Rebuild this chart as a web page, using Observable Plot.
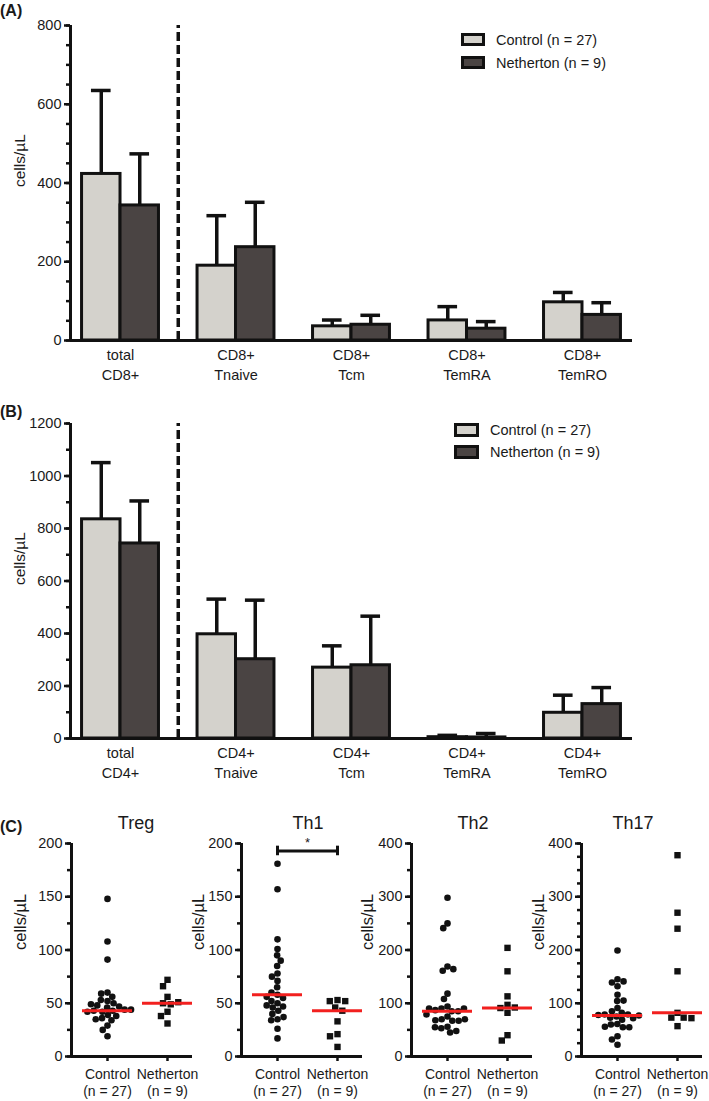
<!DOCTYPE html>
<html>
<head>
<meta charset="utf-8">
<script src="https://cdn.jsdelivr.net/npm/d3@7"></script>
<script src="https://cdn.jsdelivr.net/npm/@observablehq/plot@0.6"></script>
<style>
  body { margin: 0; background: #fff; font-family: "Liberation Sans", Arial, sans-serif; color: #1a1a1a; }
  #root { position: relative; width: 709px; height: 1101px; overflow: hidden; background: #fff; }
  #root > svg, #root > div { position: absolute; }
  .sw { position: absolute; box-sizing: border-box; border: 3px solid #111; }
</style>
</head>
<body>
<div id="root"></div>
<script>
// ---------- shared ----------
const series = ["Control", "Netherton"];
const seriesColors = ["#d4d2cc", "#4a4443"];
const legendLabels = ["Control (n = 27)", "Netherton (n = 9)"];
const yLabel = "cells/µL";
const groupLabels = ["Control\n(n = 27)", "Netherton\n(n = 9)"];

// ---------- panel A (CD8+) ----------
const catsA = ["total\nCD8+", "CD8+\nTnaive", "CD8+\nTcm", "CD8+\nTemRA", "CD8+\nTemRO"];
const ctrlA = [423, 190, 36, 51, 97];
const ctrlSdA = [212, 127, 16, 35, 25];
const nethA = [343, 237, 40, 30, 65];
const nethSdA = [131, 114, 24, 18, 31];
const majorA = [0, 200, 400, 600, 800];
const minorA = [0, 50, 100, 150, 200, 250, 300, 350, 400, 450, 500, 550, 600, 650, 700, 750, 800];

// ---------- panel B (CD4+) ----------
const catsB = ["total\nCD4+", "CD4+\nTnaive", "CD4+\nTcm", "CD4+\nTemRA", "CD4+\nTemRO"];
const ctrlB = [835, 397, 270, 5, 98];
const ctrlSdB = [216, 134, 83, 7, 67];
const nethB = [743, 302, 279, 4, 131];
const nethSdB = [162, 225, 187, 15, 63];
const majorB = [0, 200, 400, 600, 800, 1000, 1200];
const minorB = [0, 100, 200, 300, 400, 500, 600, 700, 800, 900, 1000, 1100, 1200];

// ---------- panel C (T helper subsets) ----------
const titlesC = ["Treg", "Th1", "Th2", "Th17"];
const tregCtrl = [148, 108, 91, 60, 59, 56, 52, 53, 50, 48, 46, 47, 49, 43, 42, 44, 43, 42, 44, 39, 36, 38, 34, 35, 29, 25, 19];
const tregNeth = [72, 66, 56, 50, 49, 51, 42, 38, 31];
const th1Ctrl = [181, 157, 110, 101, 95, 90, 85, 78, 75, 71, 65, 58, 60, 55, 56, 50, 52, 47, 46, 48, 43, 40, 35, 34, 37, 26, 17];
const th1Neth = [53, 52, 52, 46, 43, 33, 21, 19, 9];
const th2Ctrl = [298, 250, 241, 169, 161, 164, 118, 108, 94, 90, 85, 85, 87, 90, 90, 75, 70, 67, 67, 68, 70, 79, 56, 53, 45, 48, 55];
const th2Neth = [204, 160, 113, 97, 91, 92, 82, 40, 30];
const th17Ctrl = [199, 145, 139, 132, 141, 116, 104, 105, 91, 85, 82, 79, 75, 73, 79, 72, 69, 61, 60, 55, 55, 56, 38, 32, 22, 78, 77];
const th17Neth = [378, 270, 240, 160, 82, 73, 73, 72, 57];
const mediansCtrl = [43, 58, 85, 77];
const mediansNeth = [50, 43, 91, 82];
const yMaxC = [200, 200, 400, 400];
const majorC = [[0, 50, 100, 150, 200], [0, 50, 100, 150, 200], [0, 100, 200, 300, 400], [0, 100, 200, 300, 400]];
const minorC = [
  [0, 25, 50, 75, 100, 125, 150, 175, 200],
  [0, 25, 50, 75, 100, 125, 150, 175, 200],
  [0, 50, 100, 150, 200, 250, 300, 350, 400],
  [0, 25, 50, 75, 100, 125, 150, 175, 200, 225, 250, 275, 300, 325, 350, 375, 400]
];
const sigTh1 = {from: 0, to: 1, y: 193, label: "*"};

// ---------- drawing ----------
const ink = "#111";
const fmt = d => String(d);
const plotStyle = {fontFamily: "'Liberation Sans', Arial, sans-serif", fontSize: "14px", color: "#1a1a1a", background: "transparent", overflow: "visible"};
const root = document.getElementById("root");

function place(node, left, top) {
  node.style.left = left + "px";
  node.style.top = top + "px";
  root.appendChild(node);
}
function textDiv(text, x, y, {size = 14, weight = "normal", align = "left"} = {}) {
  const d = document.createElement("div");
  d.textContent = text;
  d.style.fontSize = size + "px";
  d.style.fontWeight = weight;
  d.style.whiteSpace = "nowrap";
  d.style.lineHeight = "1";
  d.style.transform = align === "center" ? "translate(-50%,-50%)" : "translate(0,-50%)";
  place(d, x, y);
}
function swatch(color, x, y, w, h) {
  const d = document.createElement("div");
  d.className = "sw";
  d.style.width = w + "px";
  d.style.height = h + "px";
  d.style.background = color;
  place(d, x, y);
}

const xDomBar = [-0.433, 4.433];
function barPanel(cats, ctrl, ctrlSd, neth, nethSd, yMax, major, minor, height, marginTop, labelDy) {
  const rows = cats.flatMap((c, i) => [
    {g: i, s: series[0], v: ctrl[i], e: ctrl[i] + ctrlSd[i]},
    {g: i, s: series[1], v: neth[i], e: neth[i] + nethSd[i]}
  ]);
  const bw = 0.333, cap = 0.085;
  const cx = d => d.g + (d.s === series[0] ? -bw / 2 : bw / 2);
  return Plot.plot({
    width: 709, height, marginLeft: 70, marginRight: 77, marginTop, marginBottom: height - marginTop - 315,
    x: {domain: xDomBar, axis: null},
    y: {domain: [0, yMax], axis: null},
    color: {domain: series, range: seriesColors},
    style: plotStyle,
    marks: [
      Plot.ruleX(rows, {x: cx, y1: "v", y2: "e", stroke: ink, strokeWidth: 3.5}),
      Plot.ruleY(rows, {y: "e", x1: d => cx(d) - cap, x2: d => cx(d) + cap, stroke: ink, strokeWidth: 3.5}),
      Plot.rect(rows, {x1: d => d.s === series[0] ? d.g - bw : d.g, x2: d => d.s === series[0] ? d.g : d.g + bw, y1: 0, y2: "v", fill: "s", stroke: ink, strokeWidth: 3}),
      Plot.ruleX([0.5], {y1: 0, y2: yMax, stroke: ink, strokeWidth: 3.5, strokeDasharray: "9,4"}),
      Plot.ruleY([0], {stroke: ink, strokeWidth: 3}),
      Plot.ruleX([xDomBar[0]], {y1: 0, y2: yMax, stroke: ink, strokeWidth: 3}),
      Plot.axisY({ticks: minor, tickSize: 4, tickFormat: () => "", stroke: ink, strokeWidth: 2.5, label: null}),
      Plot.axisY({ticks: major, tickSize: 6, tickPadding: 3, tickFormat: fmt, stroke: ink, strokeWidth: 2.5, fontSize: 14.5, label: null}),
      Plot.text(cats, {x: (d, i) => i, text: d => d, frameAnchor: "bottom", lineAnchor: "top", dy: 6, lineHeight: 1.35, fontSize: 14.5}),
      Plot.text([yLabel], {frameAnchor: "left", dx: -50, dy: labelDy, rotate: -90, fontSize: 15.5})
    ]
  });
}

// Panel A
place(barPanel(catsA, ctrlA, ctrlSdA, nethA, nethSdA, 800, majorA, minorA, 385, 25, 4), 0, 0);
textDiv("(A)", 0, 11, {size: 16, weight: "bold"});
swatch(seriesColors[0], 461, 33, 24, 13);
swatch(seriesColors[1], 461, 56, 24, 13);
textDiv(legendLabels[0], 496, 40, {size: 14.5});
textDiv(legendLabels[1], 496, 63, {size: 14.5});

// Panel B
place(barPanel(catsB, ctrlB, ctrlSdB, nethB, nethSdB, 1200, majorB, minorB, 403, 43, 4), 0, 380);
textDiv("(B)", 0, 412, {size: 16, weight: "bold"});
swatch(seriesColors[0], 454, 423, 25, 14);
swatch(seriesColors[1], 454, 445, 25, 14);
textDiv(legendLabels[0], 490, 430, {size: 14.5});
textDiv(legendLabels[1], 490, 452, {size: 14.5});

// Panel C
const ctrlC = [tregCtrl, th1Ctrl, th2Ctrl, th17Ctrl];
const nethC = [tregNeth, th1Neth, th2Neth, th17Neth];
const xDomC = [-0.6, 1.417];
const labelDxC = [51, 43, 44, 43];
const titleXC = [136, 308, 473, 633];
function scatterAxes(k) {
  const yMax = yMaxC[k];
  const marks = [
    Plot.ruleY([0], {stroke: ink, strokeWidth: 3}),
    Plot.ruleX([xDomC[0]], {y1: 0, y2: yMax, stroke: ink, strokeWidth: 3}),
    Plot.axisY({ticks: minorC[k], tickSize: 4, tickFormat: () => "", stroke: ink, strokeWidth: 2.5, label: null}),
    Plot.axisY({ticks: majorC[k], tickSize: 6, tickPadding: 3, tickFormat: fmt, stroke: ink, strokeWidth: 2.5, fontSize: 14.5, label: null}),
    Plot.axisX({ticks: [0, 1], tickSize: 5, tickFormat: () => "", stroke: ink, strokeWidth: 2.5, label: null}),
    Plot.text(groupLabels, {x: (d, i) => i, text: d => d, frameAnchor: "bottom", lineAnchor: "top", dy: 11, lineHeight: 1.2, fontSize: 14}),
    Plot.text([yLabel], {frameAnchor: "left", dx: -labelDxC[k], rotate: -90, fontSize: 16.5})
  ];
  if (k === 1) {
    const s = sigTh1;
    marks.push(
      Plot.ruleY([s], {y: "y", x1: "from", x2: "to", stroke: ink, strokeWidth: 3}),
      Plot.ruleX([s.from, s.to], {x: d => d, y1: s.y - 4.5, y2: s.y + 4.5, stroke: ink, strokeWidth: 3}),
      Plot.text([s], {x: d => (d.from + d.to) / 2, y: "y", text: "label", dy: -8, fontSize: 13})
    );
  }
  return Plot.plot({
    width: 198, height: 301, marginLeft: 71, marginRight: 6, marginTop: 43, marginBottom: 45,
    x: {domain: xDomC, axis: null},
    y: {domain: [0, yMax], axis: null},
    style: plotStyle,
    marks
  });
}
function scatterDots(k) {
  const cRows = ctrlC[k].map(v => ({g: series[0], v}));
  const nRows = nethC[k].map(v => ({g: series[1], v}));
  const meds = [{g: series[0], v: mediansCtrl[k]}, {g: series[1], v: mediansNeth[k]}];
  return Plot.plot({
    width: 198, height: 301, marginLeft: 77, marginRight: 1, marginTop: 43, marginBottom: 45,
    fx: {domain: series, padding: 0, axis: null},
    y: {domain: [0, yMaxC[k]], axis: null},
    style: plotStyle,
    marks: [
      Plot.dot(cRows, Plot.dodgeX({anchor: "middle", padding: 0.4, r: 3.0}, {fx: "g", y: "v", r: 3.3, fill: ink})),
      Plot.dot(nRows, Plot.dodgeX({anchor: "middle", padding: 0.8, r: 3.5}, {fx: "g", y: "v", r: 3.6, symbol: "square", fill: ink})),
      Plot.ruleY(meds, {fx: "g", y: "v", insetLeft: 5, insetRight: 5, stroke: "#f2201f", strokeWidth: 3})
    ]
  });
}
textDiv("(C)", 0, 827, {size: 16, weight: "bold"});
for (let k = 0; k < 4; k++) {
  const left = k * 170;
  place(scatterAxes(k), left, 800);
  place(scatterDots(k), left, 800);
  textDiv(titlesC[k], titleXC[k], 823, {size: 18, align: "center"});
}
</script>
</body>
</html>
